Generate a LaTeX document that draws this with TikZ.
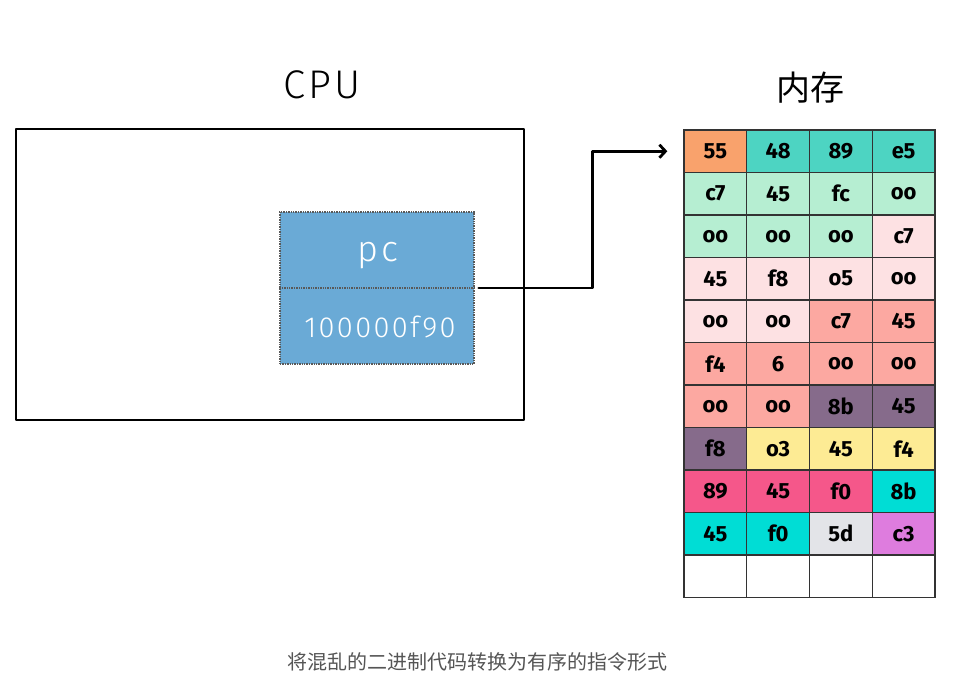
\documentclass[tikz,border=0pt]{standalone}
\usepackage{fontspec}
\usepackage{xcolor}
\usepackage{tikz}
\usetikzlibrary{arrows.meta}
\setmainfont{Fira Sans}
\newfontfamily\widefont[LetterSpace=8]{Fira Sans Light}
\newfontfamily\cjk{Noto Sans CJK SC}
\definecolor{cOr}{HTML}{F9A26C}
\definecolor{cTe}{HTML}{4DD4C2}
\definecolor{cGr}{HTML}{B6EED2}
\definecolor{cPk}{HTML}{FDE1E3}
\definecolor{cSa}{HTML}{FCA8A1}
\definecolor{cPu}{HTML}{866B8B}
\definecolor{cYe}{HTML}{FDEB94}
\definecolor{cRo}{HTML}{F5578A}
\definecolor{cCy}{HTML}{00DDD5}
\definecolor{cGy}{HTML}{E3E4E8}
\definecolor{cVi}{HTML}{DE7CDE}
\definecolor{pcblue}{HTML}{6AAAD6}
\definecolor{capgray}{HTML}{555555}

\begin{document}
\begin{tikzpicture}[x=1pt,y=-1pt,
    cell/.style={draw=black!80,line width=1.3pt,minimum width=62.75pt,minimum height=42.5pt,
      inner sep=0pt,font=\fontsize{22}{22}\selectfont\bfseries},
    title/.style={font=\widefont\fontsize{40}{40}\selectfont},
    conn/.style={line width=2.8pt,line cap=round,line join=round}]
  \useasboundingbox[fill=white] (0,0) rectangle (967,700);
  % cpu side
  \node[title] (cputitle) at (322,85) {CPU};
  \node[draw,conn,minimum width=508pt,minimum height=291pt,inner sep=0pt] (cpubox) at (270,274.5) {};
  \node[fill=pcblue,draw=black!65,densely dotted,line width=1.4pt,minimum width=194pt,
    minimum height=152pt,inner sep=0pt] (pcbox) at (377,288) {};
  \draw[black!65,densely dotted,line width=1.4pt] (pcbox.west) -- (pcbox.east);
  \node[white,font=\widefont\fontsize{36}{36}\selectfont] (pcname) at (378,256) {pc};
  \node[white,font=\widefont\fontsize{29}{29}\selectfont] (pcval) at (380,327) {100000f90};
  % memory side
  \node[font=\cjk\fontsize{34}{34}\selectfont] (memtitle) at (810,88) {内存};
  \foreach \lab/\col [count=\i from 0] in {
      55/cOr,48/cTe,89/cTe,e5/cTe,
      c7/cGr,45/cGr,fc/cGr,oo/cGr,
      oo/cGr,oo/cGr,oo/cGr,c7/cPk,
      45/cPk,f8/cPk,o5/cPk,oo/cPk,
      oo/cPk,oo/cPk,c7/cSa,45/cSa,
      f4/cSa,6/cSa,oo/cSa,oo/cSa,
      oo/cSa,oo/cSa,8b/cPu,45/cPu,
      f8/cPu,o3/cYe,45/cYe,f4/cYe,
      89/cRo,45/cRo,f0/cRo,8b/cCy,
      45/cCy,f0/cCy,5d/cGy,c3/cVi,
      {}/white,{}/white,{}/white,{}/white} {
    \pgfmathtruncatemacro\r{int(\i/4)}
    \pgfmathtruncatemacro\c{mod(\i,4)}
    \node[cell,fill=\col] (m\i) at ({684+62.75*(\c+0.5)},{130+42.5*(\r+0.5)}) {\lab};
  }
  \draw[conn,-{Straight Barb[length=6pt,width=13pt]},shorten >=16pt]
    (pcbox.east) ++(4,0) -- ++(114,0) |- (m0.west);
  % caption
  \node[font=\cjk\fontsize{20}{20}\selectfont,capgray] (caption) at (477,662)
    {将混乱的二进制代码转换为有序的指令形式};
\end{tikzpicture}
\end{document}
